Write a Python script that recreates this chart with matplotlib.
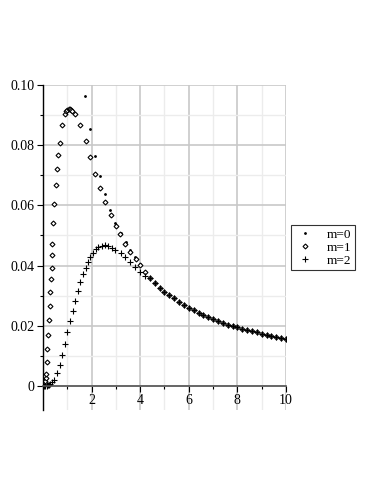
import matplotlib
matplotlib.use("Agg")
import matplotlib.pyplot as plt
from matplotlib.ticker import MultipleLocator, FixedLocator

# ---- data ----
tail_x = [4.4, 4.6, 4.8, 5.0, 5.2, 5.4, 5.6, 5.8, 6.0, 6.2, 6.4, 6.6, 6.8, 7.0,
          7.2, 7.4, 7.6, 7.8, 8.0, 8.2, 8.4, 8.6, 8.8, 9.0, 9.2, 9.4, 9.6, 9.8, 10.0]
tail_y = [0.0358, 0.0342, 0.0327, 0.0313, 0.0302, 0.0291, 0.0280, 0.0270, 0.0260,
          0.0251, 0.0243, 0.0235, 0.0228, 0.0221, 0.0215, 0.0209, 0.0204, 0.0199,
          0.0195, 0.0190, 0.0186, 0.0182, 0.0178, 0.0174, 0.0170, 0.0166, 0.0163,
          0.0160, 0.0156]

m0_x = [0.01, 0.03, 1.73, 1.92, 2.13, 2.35, 2.55, 2.76, 2.98, 3.2, 3.4, 3.6, 3.8, 4.0, 4.2]
m0_y = [0.0005, 0.0020, 0.0964, 0.0853, 0.0764, 0.0698, 0.0638, 0.0585, 0.0540,
        0.0509, 0.0478, 0.0452, 0.0427, 0.0404, 0.0380]

m1_x = [0.02, 0.04, 0.06, 0.08, 0.10, 0.12, 0.14, 0.16, 0.18, 0.21, 0.24, 0.27,
        0.30, 0.33, 0.35, 0.37, 0.39, 0.42, 0.47, 0.53, 0.58, 0.63, 0.68, 0.78,
        0.89, 0.95, 1.00, 1.05, 1.10, 1.15, 1.20, 1.30, 1.54, 1.75, 1.93, 2.14,
        2.36, 2.56, 2.78, 2.99, 3.18, 3.39, 3.59, 3.81, 4.00, 4.20]
m1_y = [0.0000, 0.0002, 0.0005, 0.0010, 0.0018, 0.0026, 0.0040, 0.0080, 0.0124,
        0.0168, 0.0219, 0.0267, 0.0313, 0.0355, 0.0393, 0.0434, 0.0472, 0.0541,
        0.0604, 0.0667, 0.0722, 0.0767, 0.0808, 0.0866, 0.0904, 0.0912, 0.0917,
        0.0919, 0.0919, 0.0917, 0.0913, 0.0904, 0.0866, 0.0814, 0.0760, 0.0705,
        0.0659, 0.0612, 0.0569, 0.0532, 0.0504, 0.0470, 0.0446, 0.0422, 0.0401,
        0.0377]

m2_x = [0.05, 0.10, 0.15, 0.20, 0.25, 0.30, 0.36, 0.47, 0.58, 0.69, 0.78, 0.89,
        1.00, 1.11, 1.22, 1.32, 1.43, 1.54, 1.65, 1.75, 1.84, 1.94, 2.06, 2.18,
        2.28, 2.41, 2.55, 2.69, 2.83, 2.96, 3.20, 3.39, 3.59, 3.80, 3.99, 4.20]
m2_y = [0.0000, 0.0000, 0.0001, 0.0002, 0.0004, 0.0007, 0.0012, 0.0019, 0.0044,
        0.0071, 0.0103, 0.0141, 0.0178, 0.0216, 0.0249, 0.0283, 0.0317, 0.0344,
        0.0371, 0.0393, 0.0413, 0.0430, 0.0443, 0.0455, 0.0461, 0.0466, 0.0467,
        0.0464, 0.0458, 0.0452, 0.0443, 0.0428, 0.0412, 0.0396, 0.0380, 0.0366]

labels = ["m=0", "m=1", "m=2"]
xticks = [2, 4, 6, 8, 10]
yticks = [0, 0.02, 0.04, 0.06, 0.08, 0.10]
ytick_labels = ["0", "0.02", "0.04", "0.06", "0.08", "0.10"]

plt.rcParams['font.family'] = ['Liberation Serif', 'DejaVu Serif']

fig = plt.figure(figsize=(3.82, 4.94), dpi=100)
ax = fig.add_axes([0.1126, 0.170, 0.636, 0.658])

ax.plot(m0_x + tail_x, m0_y + tail_y, linestyle='none', marker='.', markersize=2.0,
        color='black', label=labels[0])
ax.plot(m1_x + tail_x, m1_y + tail_y, linestyle='none', marker='D', markersize=2.5,
        markerfacecolor='white', markeredgecolor='black', markeredgewidth=0.8,
        label=labels[1])
ax.plot(m2_x + tail_x, m2_y + tail_y, linestyle='none', marker='+', markersize=4.2,
        markeredgewidth=0.8, color='black', label=labels[2])

ax.set_xlim(0, 10)
ax.set_ylim(-0.008, 0.10)

ax.xaxis.set_major_locator(FixedLocator(xticks))
ax.xaxis.set_minor_locator(MultipleLocator(1))
ax.yaxis.set_major_locator(FixedLocator(yticks))
ax.yaxis.set_minor_locator(MultipleLocator(0.01))
ax.set_yticklabels(ytick_labels)

ax.grid(which='major', color='#c8c8c8', linewidth=1.2)
ax.grid(which='minor', color='#ececec', linewidth=1.0)
ax.set_axisbelow(True)

for s in ['top', 'right']:
    ax.spines[s].set_visible(False)
ax.spines['bottom'].set_position(('data', 0))
ax.spines['bottom'].set_color('#555555')
ax.spines['bottom'].set_linewidth(1.2)
ax.spines['left'].set_color('black')
ax.spines['left'].set_linewidth(1.0)

ax.tick_params(axis='both', which='major', labelsize=10, length=4, width=0.8,
               direction='out', colors='black')
ax.tick_params(axis='both', which='minor', length=2.5, width=0.8, direction='out')
ax.tick_params(axis='x', pad=2)
ax.tick_params(axis='y', pad=2)

leg = ax.legend(loc='center left', bbox_to_anchor=(1.02, 0.50), fontsize=9.5,
                frameon=True, fancybox=False, edgecolor='black', borderpad=0.3,
                handlelength=1.6, handletextpad=0.8, labelspacing=0.05,
                borderaxespad=0.0)
leg.get_frame().set_linewidth(0.8)

fig.savefig('out.png', dpi=100)
